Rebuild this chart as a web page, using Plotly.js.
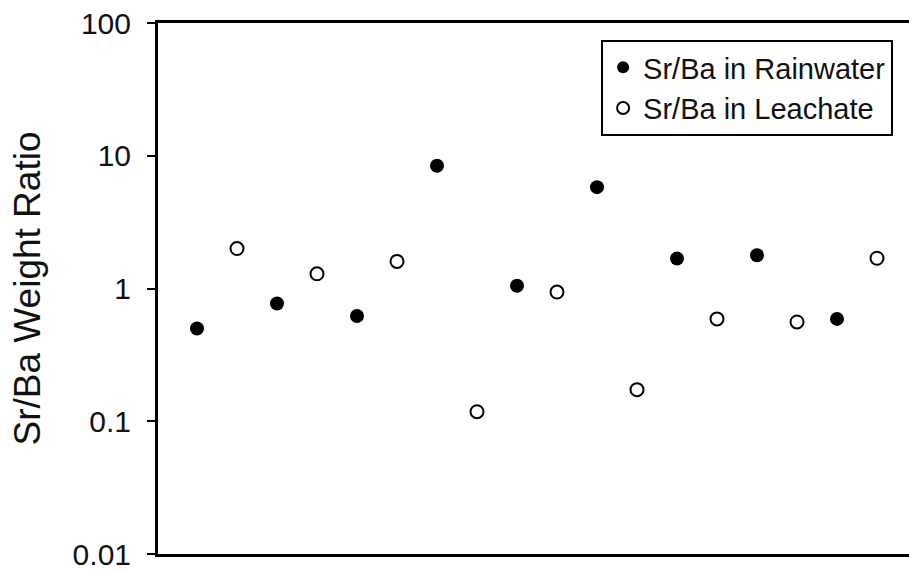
<!DOCTYPE html>
<html>
<head>
<meta charset="utf-8">
<script src="https://cdn.plot.ly/plotly-3.0.1.min.js"></script>
<style>html,body{margin:0;padding:0;background:#fff;}#chart{width:909px;height:571px;}</style>
</head>
<body>
<div id="chart"></div>
<script>
// Sample positions (alternating rainwater / leachate)
const rainSample = [1, 3, 5, 7, 9, 11, 13, 15, 17];
const rainRatio  = [0.50, 0.77, 0.62, 8.4, 1.05, 5.8, 1.68, 1.78, 0.59];
const leachSample = [2, 4, 6, 8, 10, 12, 14, 16, 18];
const leachRatio  = [2.0, 1.29, 1.60, 0.118, 0.94, 0.173, 0.59, 0.56, 1.69];
const yTickVals = [0.01, 0.1, 1, 10, 100];
const yTickText = ['0.01', '0.1', '1', '10', '100'];

const FONT = 'Liberation Sans, Arial, sans-serif';

const traces = [
  {
    x: rainSample, y: rainRatio, type: 'scatter', mode: 'markers',
    name: 'Sr/Ba in Rainwater',
    marker: {symbol: 'circle', size: 14, color: '#000', line: {width: 0}}
  },
  {
    x: leachSample, y: leachRatio, type: 'scatter', mode: 'markers',
    name: 'Sr/Ba in Leachate',
    marker: {symbol: 'circle-open', size: 13, color: '#000', line: {width: 2, color: '#000'}}
  }
];

const layout = {
  width: 909, height: 571,
  margin: {l: 158, r: 0, t: 23, b: 17},
  paper_bgcolor: '#fff', plot_bgcolor: '#fff',
  font: {family: FONT, color: '#111', size: 30},
  showlegend: true,
  legend: {
    x: 0.59, xanchor: 'left', y: 0.968, yanchor: 'top',
    bgcolor: '#fff', bordercolor: '#000', borderwidth: 2,
    font: {family: FONT, size: 29, color: '#111'},
    itemsizing: 'constant'
  },
  xaxis: {
    range: [0.025, 18.8],
    showticklabels: false, ticks: '',
    showline: true, mirror: true, linewidth: 3, linecolor: '#000',
    showgrid: false, zeroline: false
  },
  yaxis: {
    type: 'log', range: [-2, 2],
    tickvals: yTickVals, ticktext: yTickText,
    ticks: 'outside', ticklen: 8, tickwidth: 2, tickcolor: '#000',
    ticklabelstandoff: 10, ticklabeloverflow: 'allow',
    tickfont: {family: FONT, size: 30, color: '#111'},
    showline: true, linewidth: 3, linecolor: '#000',
    showgrid: false, zeroline: false,
    title: {text: 'Sr/Ba Weight Ratio', font: {family: FONT, size: 37, color: '#111'}, standoff: 21}
  }
};

Plotly.newPlot('chart', traces, layout, {displayModeBar: false, staticPlot: true});
</script>
</body>
</html>
